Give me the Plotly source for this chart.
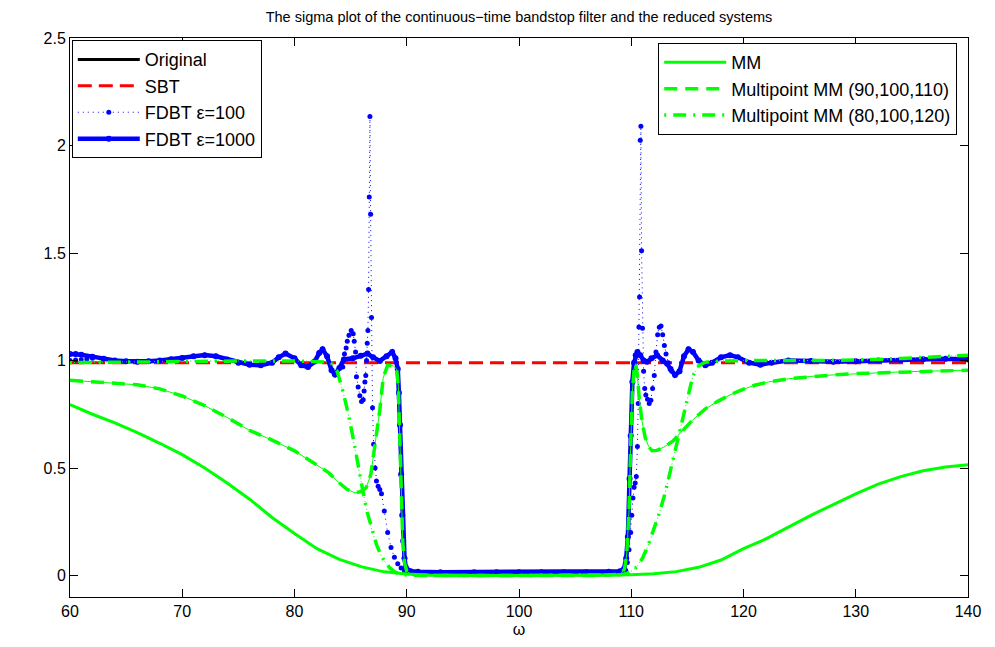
import plotly.graph_objects as go

# ---- frequency grids and responses -------------------------------------
# FDBT eps=1000 (the original system lies underneath it)
W_FDBT = [60, 60.5, 61, 62, 63, 64, 65, 66, 67, 68, 69, 70, 71, 72, 73, 74, 75, 76, 77, 78,
          78.6, 79.2, 80.0, 80.6, 81.2, 81.8, 82.2, 82.5, 82.9, 83.3, 83.6, 84.0, 84.4, 85.2,
          85.9, 86.5, 87.0, 87.6, 88.2, 88.7, 89.0, 89.2, 89.3, 89.4, 89.5, 89.6, 89.68,
          89.8, 89.92, 90.1, 90.35, 91, 93, 96, 98, 100, 102, 104, 106, 108, 109.0, 109.35,
          109.55, 109.7, 109.85, 109.95, 110.1, 110.25, 110.4, 110.55, 110.8, 111.1, 111.4,
          111.8, 112.3, 112.8, 113.2, 113.5, 113.9, 114.3, 114.7, 115.1, 115.5, 116.0, 116.6,
          117.2, 118.0, 118.8, 119.5, 120.5, 121.5, 122.5, 124, 126, 128, 130, 132, 134, 136,
          138, 140]
FDBT_1000 = [1.03, 1.03, 1.027, 1.018, 1.008, 1.0, 0.996, 0.994, 0.996, 1.0, 1.006, 1.012, 1.02,
             1.025, 1.02, 1.005, 0.99, 0.98, 0.978, 0.99, 1.015, 1.032, 1.01, 0.978, 0.97,
             0.995, 1.035, 1.052, 1.02, 0.955, 0.935, 0.965, 1.005, 1.01, 1.022, 1.032, 1.015,
             0.998, 1.02, 1.04, 1.01, 0.96, 0.85, 0.7, 0.47, 0.28, 0.16, 0.08, 0.037, 0.025,
             0.02, 0.017, 0.015, 0.015, 0.015, 0.015, 0.015, 0.015, 0.015, 0.017, 0.02, 0.03,
             0.08, 0.18, 0.45, 0.65, 0.9, 0.99, 1.025, 1.04, 1.025, 1.0, 0.994, 1.01, 1.025,
             1.0, 0.985, 0.96, 0.932, 0.95, 1.02, 1.052, 1.04, 1.0, 0.978, 0.99, 1.015, 1.025,
             1.015, 0.99, 0.98, 0.99, 1.0, 0.998, 0.994, 0.997, 1.0, 1.002, 1.006, 1.008, 1.005]
ORIGINAL = [1.03, 1.03, 1.027, 1.018, 1.008, 1.0, 0.996, 0.994, 0.996, 1.0, 1.006, 1.012, 1.02,
            1.025, 1.02, 1.005, 0.99, 0.98, 0.978, 0.99, 1.015, 1.032, 1.01, 0.978, 0.97,
            0.995, 1.035, 1.052, 1.02, 0.955, 0.935, 0.965, 1.005, 1.01, 1.022, 1.032, 1.015,
            0.998, 1.02, 1.04, 1.01, 0.96, 0.85, 0.7, 0.47, 0.28, 0.16, 0.08, 0.037, 0.02,
            0.01, 0.004, 0.003, 0.003, 0.003, 0.003, 0.003, 0.003, 0.003, 0.004, 0.01, 0.03,
            0.08, 0.18, 0.45, 0.65, 0.9, 0.99, 1.025, 1.04, 1.025, 1.0, 0.994, 1.01, 1.025,
            1.0, 0.985, 0.96, 0.932, 0.95, 1.02, 1.052, 1.04, 1.0, 0.978, 0.99, 1.015, 1.025,
            1.015, 0.99, 0.98, 0.99, 1.0, 0.998, 0.994, 0.997, 1.0, 1.002, 1.006, 1.008, 1.005]

# FDBT eps=100
W_FDBT100 = [60, 60.5, 61, 61.5, 62, 63, 64, 65, 66, 67, 68, 69, 70, 71, 72, 73, 74, 75, 76, 77,
             78, 78.6, 79.2, 80.0, 80.6, 81.2, 81.8, 82.2, 82.5, 82.9, 83.3, 83.6, 84.0, 84.3,
             84.45, 84.6, 84.7, 84.85, 85.05, 85.23, 85.32, 85.44, 85.52, 85.67, 85.82, 85.97,
             86.12, 86.2, 86.27, 86.35, 86.42, 86.48, 86.54, 86.6, 86.66, 86.72, 86.78, 86.86,
             86.95, 87.05, 87.18, 87.3, 87.45, 87.6, 87.75, 88.0, 88.3, 88.6, 88.9, 89.2, 89.5,
             89.8, 90.2, 90.6, 93, 96, 100, 104, 107, 109, 109.3, 109.5, 109.65, 109.8, 109.95,
             110.05, 110.15, 110.25, 110.35, 110.45, 110.55, 110.62, 110.68, 110.74, 110.8,
             110.86, 110.92, 111.0, 111.1, 111.2, 111.3, 111.45, 111.6, 111.75, 111.9, 112.05,
             112.2, 112.35, 112.5, 112.65, 112.8, 112.95, 113.1, 113.3, 113.6, 113.9, 114.3,
             114.7, 115.1, 115.5, 116.0, 116.6, 117.2, 118.0, 118.8, 119.5, 120.5, 121.5, 122.5,
             124, 126, 128, 130, 132, 134, 136, 138, 140]
FDBT_100 = [1.0, 1.002, 1.004, 1.007, 1.01, 1.008, 1.0, 0.996, 0.994, 0.996, 1.0, 1.006, 1.012,
            1.02, 1.025, 1.02, 1.005, 0.99, 0.98, 0.978, 0.99, 1.015, 1.032, 1.01, 0.978, 0.97,
            0.995, 1.035, 1.052, 1.02, 0.955, 0.935, 0.965, 0.97, 1.03, 1.058, 1.09, 1.117,
            1.14, 1.125, 1.09, 1.04, 0.925, 0.877, 0.836, 0.809, 0.817, 0.858, 0.9, 0.93, 1.0,
            1.08, 1.14, 1.33, 1.76, 2.135, 1.68, 1.2, 0.78, 0.61, 0.5, 0.44, 0.415, 0.4, 0.38,
            0.3, 0.2, 0.13, 0.085, 0.055, 0.035, 0.022, 0.015, 0.012, 0.012, 0.012, 0.012,
            0.012, 0.012, 0.012, 0.015, 0.025, 0.06, 0.12, 0.2, 0.28, 0.36, 0.41, 0.43, 0.46,
            0.6, 0.8, 1.156, 1.295, 2.025, 2.09, 1.51, 1.15, 0.95, 0.87, 0.84, 0.82, 0.8, 0.815,
            0.87, 0.93, 1.04, 1.12, 1.155, 1.16, 1.12, 1.07, 1.03, 0.99, 0.95, 0.935, 0.95,
            1.02, 1.052, 1.04, 1.0, 0.978, 0.99, 1.015, 1.025, 1.015, 0.99, 0.98, 0.99, 1.0,
            0.998, 0.994, 0.997, 1.0, 1.002, 1.006, 1.008, 1.005]

# SBT
W_SBT = [60, 70, 80, 90, 100, 110, 120, 130, 140]
SBT = [0.99, 0.99, 0.99, 0.99, 0.99, 0.99, 0.99, 0.99, 0.99]

# Moment matching at a single point
W_MM = [60, 62, 64, 66, 68, 70, 72, 74, 76, 78, 80, 82, 84, 86, 88, 90, 92, 94, 96, 98, 100,
        102, 104, 106, 108, 110, 112, 114, 116, 118, 120, 122, 124, 126, 128, 130, 132, 134,
        136, 138, 140]
MM = [0.795, 0.75, 0.71, 0.665, 0.615, 0.562, 0.5, 0.43, 0.355, 0.27, 0.195, 0.125, 0.075,
      0.04, 0.017, 0.007, 0.002, 0.0, 0.0, 0.0, 0.0, 0.0, 0.0, 0.001, 0.002, 0.004, 0.008,
      0.018, 0.038, 0.072, 0.125, 0.17, 0.225, 0.28, 0.33, 0.38, 0.425, 0.46, 0.487, 0.505,
      0.515]

# Multipoint MM at (90,100,110)
W_MP1 = [60, 62, 64, 66, 68, 70, 72, 74, 76, 78, 80, 82, 83, 84, 84.7, 85.4, 85.9, 86.4, 86.8,
         87.2, 87.6, 87.9, 88.3, 88.8, 89.1, 89.25, 89.35, 89.45, 89.55, 89.65, 89.8, 90.0,
         90.4, 91, 93, 100, 107, 109, 109.4, 109.6, 109.8, 109.95, 110.1, 110.25, 110.4,
         110.55, 110.7, 110.95, 111.25, 111.55, 111.85, 112.3, 113.0, 113.7, 114.5, 115.5,
         116.6, 117.7, 118.8, 119.9, 121, 122.2, 124, 126, 128, 130, 133, 136, 140]
MP_90_110 = [0.908, 0.902, 0.895, 0.887, 0.868, 0.835, 0.79, 0.735, 0.675, 0.63, 0.58, 0.515,
             0.48, 0.43, 0.4, 0.384, 0.39, 0.41, 0.47, 0.62, 0.77, 0.92, 0.978, 0.975, 0.96,
             0.88, 0.72, 0.5, 0.3, 0.15, 0.06, 0.02, 0.005, 0.001, 0.0, 0.0, 0.0, 0.005, 0.03,
             0.1, 0.3, 0.6, 0.85, 0.96, 0.985, 0.93, 0.83, 0.72, 0.64, 0.6, 0.58, 0.582, 0.6,
             0.625, 0.67, 0.725, 0.775, 0.81, 0.84, 0.865, 0.885, 0.9, 0.915, 0.926, 0.933,
             0.939, 0.945, 0.95, 0.955]

# Multipoint MM at (80,100,120)
W_MP2 = [60, 64, 68, 72, 76, 80, 82, 82.8, 83.3, 83.8, 84.3, 84.8, 85.3, 85.7, 86.1, 86.5, 86.9,
         87.3, 87.7, 88.1, 88.5, 88.9, 89.3, 89.8, 90.5, 91, 93, 100, 107, 109, 109.6, 110,
         110.5, 111, 111.5, 112, 112.5, 113, 113.5, 114, 114.5, 115, 115.5, 116, 116.5, 117,
         118, 120, 125, 128, 132, 135, 138, 140]
MP_80_120 = [0.99, 0.993, 0.996, 0.998, 0.998, 0.998, 0.997, 0.993, 0.985, 0.95, 0.86, 0.75,
             0.62, 0.5, 0.39, 0.29, 0.21, 0.145, 0.095, 0.06, 0.035, 0.018, 0.008, 0.003,
             0.001, 0.0, 0.0, 0.0, 0.0, 0.003, 0.01, 0.02, 0.04, 0.08, 0.14, 0.21, 0.29, 0.38,
             0.49, 0.6, 0.72, 0.83, 0.93, 0.975, 0.99, 0.995, 0.998, 1.0, 1.0, 1.0, 1.005,
             1.012, 1.02, 1.024]

for xs, ys in [(W_FDBT, FDBT_1000), (W_FDBT, ORIGINAL), (W_FDBT100, FDBT_100),
               (W_SBT, SBT), (W_MM, MM), (W_MP1, MP_90_110), (W_MP2, MP_80_120)]:
    assert len(xs) == len(ys), (len(xs), len(ys))

X_TICKS = [60, 70, 80, 90, 100, 110, 120, 130, 140]
Y_TICKS = [0, 0.5, 1, 1.5, 2, 2.5]
Y_TICK_TEXT = ["0", "0.5", "1", "1.5", "2", "2.5"]

BLUE = "rgb(0,0,255)"
GREEN = "rgb(0,255,0)"
RED = "rgb(255,0,0)"
FONT = "Liberation Sans, Arial, Helvetica, sans-serif"

fig = go.Figure()

fig.add_trace(go.Scatter(x=W_FDBT, y=ORIGINAL, mode="lines", name="Original",
                         line=dict(color="black", width=3)))
fig.add_trace(go.Scatter(x=W_SBT, y=SBT, mode="lines", name="SBT",
                         line=dict(color=RED, width=3, dash="14px,7px")))
fig.add_trace(go.Scatter(x=W_FDBT100, y=FDBT_100, mode="lines+markers", name="FDBT \u03b5=100",
                         line=dict(color=BLUE, width=1, dash="1px,4px"),
                         marker=dict(color=BLUE, size=5, symbol="circle")))
fig.add_trace(go.Scatter(x=W_FDBT, y=FDBT_1000, mode="lines+markers", name="FDBT \u03b5=1000",
                         line=dict(color=BLUE, width=4.5),
                         marker=dict(color=BLUE, size=6, symbol="circle")))

fig.add_trace(go.Scatter(x=W_MM, y=MM, mode="lines", name="MM", legend="legend2",
                         line=dict(color=GREEN, width=3)))
# thin trace under the dashed curves (connects the dashes)
fig.add_trace(go.Scatter(x=W_MP1, y=MP_90_110, mode="lines", showlegend=False,
                         legend="legend2", hoverinfo="skip",
                         line=dict(color=GREEN, width=1)))
fig.add_trace(go.Scatter(x=W_MP1, y=MP_90_110, mode="lines", name="Multipoint MM (90,100,110)",
                         legend="legend2", line=dict(color=GREEN, width=3.5, dash="13px,8px")))
fig.add_trace(go.Scatter(x=W_MP2, y=MP_80_120, mode="lines", showlegend=False,
                         legend="legend2", hoverinfo="skip",
                         line=dict(color=GREEN, width=1, dash="1px,3px")))
fig.add_trace(go.Scatter(x=W_MP2, y=MP_80_120, mode="lines", name="Multipoint MM (80,100,120)",
                         legend="legend2",
                         line=dict(color=GREEN, width=3.5, dash="2px,7px,13px,7px")))

axis_common = dict(showgrid=False, zeroline=False, showline=True, linecolor="black",
                   linewidth=1, mirror="ticks", ticks="inside", ticklen=8, tickwidth=1,
                   tickcolor="black", tickfont=dict(family=FONT, size=16, color="black"))

legend_common = dict(yanchor="top", bgcolor="white", bordercolor="black", borderwidth=1,
                     itemwidth=62, font=dict(family=FONT, size=18, color="black"))

fig.update_layout(
    width=995, height=647,
    margin=dict(l=70, r=27, t=38, b=47),
    paper_bgcolor="white", plot_bgcolor="white",
    font=dict(family=FONT, color="black"),
    title=dict(text="The sigma plot of the continuous\u2212time bandstop filter and the reduced systems",
               x=0.5, xref="paper", xanchor="center", y=1 - 17 / 647, yanchor="middle",
               font=dict(family=FONT, size=14.5, color="black")),
    xaxis=dict(range=[60, 140], tickvals=X_TICKS,
               title=dict(text="\u03c9", font=dict(family=FONT, size=16), standoff=4),
               **axis_common),
    yaxis=dict(range=[-0.1, 2.5], tickvals=Y_TICKS, ticktext=Y_TICK_TEXT, **axis_common),
    legend=dict(x=0.002, y=0.996, xanchor="left", **legend_common),
    legend2=dict(x=0.988, y=0.991, xanchor="right", **legend_common),
    showlegend=True,
)

fig.write_html("out.html")
